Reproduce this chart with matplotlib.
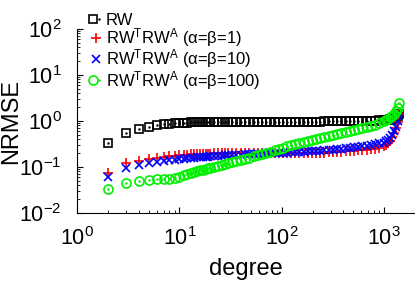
import matplotlib
matplotlib.use("Agg")
import matplotlib.pyplot as plt
from matplotlib.legend_handler import HandlerTuple

plt.rcParams['font.family'] = ['Liberation Sans', 'DejaVu Sans']
plt.rcParams['mathtext.fontset'] = 'custom'
plt.rcParams['mathtext.rm'] = 'Liberation Sans'
plt.rcParams['mathtext.it'] = 'Liberation Sans'

# degrees where the error was evaluated
degree = [2, 3, 4, 5, 6, 7, 8, 9, 10, 11, 12, 13, 14, 15, 16, 17, 18, 19, 20,
          22, 24, 26, 28, 30, 33, 36, 40, 44, 48, 53, 58, 64, 70, 77,
          85, 93, 102, 112, 123, 135, 148, 163, 179, 197, 216, 238, 261, 287, 316,
          347, 382, 420, 462, 508, 558, 614, 675, 742, 816, 897, 986,
          1050, 1100, 1150, 1200, 1250, 1300, 1350, 1400]

rw = [0.34, 0.54, 0.67, 0.75, 0.81, 0.85, 0.88, 0.9, 0.91, 0.92, 0.92, 0.93, 0.93, 0.93, 0.94, 0.94, 0.94, 0.94, 0.94,
      0.94, 0.94, 0.95, 0.95, 0.95, 0.95, 0.95, 0.95, 0.95, 0.95, 0.95, 0.95, 0.95, 0.95, 0.96,
      0.96, 0.96, 0.96, 0.96, 0.96, 0.96, 0.96, 0.97, 0.97, 0.97, 0.97, 0.97, 0.98, 0.98, 0.98,
      0.99, 0.99, 0.99, 1.0, 1.0, 1.0, 1.01, 1.01, 1.02, 1.02, 1.03, 1.05,
      1.05, 1.07, 1.09, 1.12, 1.15, 1.2, 1.28, 1.4]

rwa_1 = [0.075, 0.12, 0.135, 0.15, 0.16, 0.165, 0.17, 0.175, 0.18, 0.182, 0.185, 0.187, 0.19, 0.19, 0.192, 0.193, 0.194, 0.195, 0.196,
         0.197, 0.198, 0.199, 0.2, 0.2, 0.2, 0.2, 0.2, 0.2, 0.2, 0.2, 0.2, 0.2, 0.2, 0.2,
         0.2, 0.2, 0.2, 0.2, 0.2, 0.2, 0.2, 0.2, 0.2, 0.2, 0.2, 0.2, 0.2, 0.21, 0.21,
         0.21, 0.21, 0.22, 0.22, 0.22, 0.23, 0.23, 0.24, 0.25, 0.25, 0.26, 0.28,
         0.3, 0.33, 0.37, 0.45, 0.55, 0.7, 0.95, 1.4]

rwa_10 = [0.062, 0.094, 0.11, 0.12, 0.128, 0.135, 0.14, 0.145, 0.15, 0.153, 0.156, 0.158, 0.16, 0.162, 0.164, 0.166, 0.167, 0.168, 0.17,
          0.172, 0.174, 0.176, 0.178, 0.18, 0.182, 0.184, 0.186, 0.188, 0.19, 0.192, 0.194, 0.196, 0.198, 0.2,
          0.2, 0.202, 0.204, 0.206, 0.208, 0.21, 0.212, 0.215, 0.218, 0.22, 0.223, 0.226, 0.23, 0.234, 0.238,
          0.243, 0.248, 0.254, 0.26, 0.266, 0.273, 0.28, 0.29, 0.3, 0.31, 0.325, 0.34,
          0.36, 0.39, 0.43, 0.5, 0.6, 0.75, 1.0, 1.5]

rwa_100 = [0.033, 0.044, 0.05, 0.052, 0.054, 0.055, 0.056, 0.058, 0.062, 0.066, 0.07, 0.074, 0.078, 0.082, 0.085, 0.088, 0.091, 0.094, 0.097,
           0.1, 0.105, 0.11, 0.115, 0.12, 0.127, 0.134, 0.143, 0.152, 0.16, 0.17, 0.18, 0.19, 0.2, 0.215,
           0.23, 0.245, 0.26, 0.28, 0.3, 0.32, 0.335, 0.35, 0.37, 0.39, 0.41, 0.43, 0.45, 0.47, 0.5,
           0.52, 0.55, 0.57, 0.6, 0.63, 0.66, 0.7, 0.74, 0.78, 0.83, 0.9, 1.0,
           1.05, 1.1, 1.2, 1.3, 1.45, 1.65, 1.9, 2.5]

labels = ["RW",
          r"RW$^\mathregular{T}$RW$^\mathregular{A}$ ($\mathregular{\alpha}$=$\mathregular{\beta}$=1)",
          r"RW$^\mathregular{T}$RW$^\mathregular{A}$ ($\mathregular{\alpha}$=$\mathregular{\beta}$=10)",
          r"RW$^\mathregular{T}$RW$^\mathregular{A}$ ($\mathregular{\alpha}$=$\mathregular{\beta}$=100)"]

green = '#00f000'

fig = plt.figure(figsize=(4.15, 2.91), dpi=100)
ax = fig.add_axes([77/415, 78/291, 338/415, 184/291])

# squares and circles carry a small centre dot
h1 = ax.plot(degree, rw, 's', ms=6, mfc='none', mec='black', mew=1.2)[0]
d1 = ax.plot(degree, rw, '.', ms=1.5, color='black')[0]
h2 = ax.plot(degree, rwa_1, '+', ms=7, color='red', mew=1.2)[0]
h3 = ax.plot(degree, rwa_10, 'x', ms=6, color='blue', mew=1.2)[0]
h4 = ax.plot(degree, rwa_100, 'o', ms=6.5, mfc='none', mec=green, mew=1.2)[0]
d4 = ax.plot(degree, rwa_100, '.', ms=1.5, color=green)[0]

ax.set_xscale('log')
ax.set_yscale('log')
ax.set_xlim(1, 2000)
ax.set_ylim(1e-2, 1e2)
ax.spines['top'].set_visible(False)
ax.spines['right'].set_visible(False)
ax.tick_params(which='both', direction='in', labelsize=15.5)
ax.tick_params(which='major', length=4)
ax.tick_params(which='minor', length=2)
ax.tick_params(axis='x', pad=10)
ax.tick_params(axis='y', pad=11)
ax.set_xlabel('degree', fontsize=17, labelpad=6)
ax.set_ylabel('NRMSE', fontsize=17)
ax.yaxis.set_label_coords(-55/338, 0.5)

ax.legend([(h1, d1), h2, h3, (h4, d4)], labels,
          handler_map={tuple: HandlerTuple(ndivide=None, pad=0)},
          loc='upper left', bbox_to_anchor=(90/415, 1 - 13/291),
          bbox_transform=fig.transFigure, frameon=False,
          fontsize=12, handlelength=0.7, handletextpad=0.25,
          labelspacing=-0.1, borderpad=0, borderaxespad=0)

fig.savefig('out.png', dpi=100)
